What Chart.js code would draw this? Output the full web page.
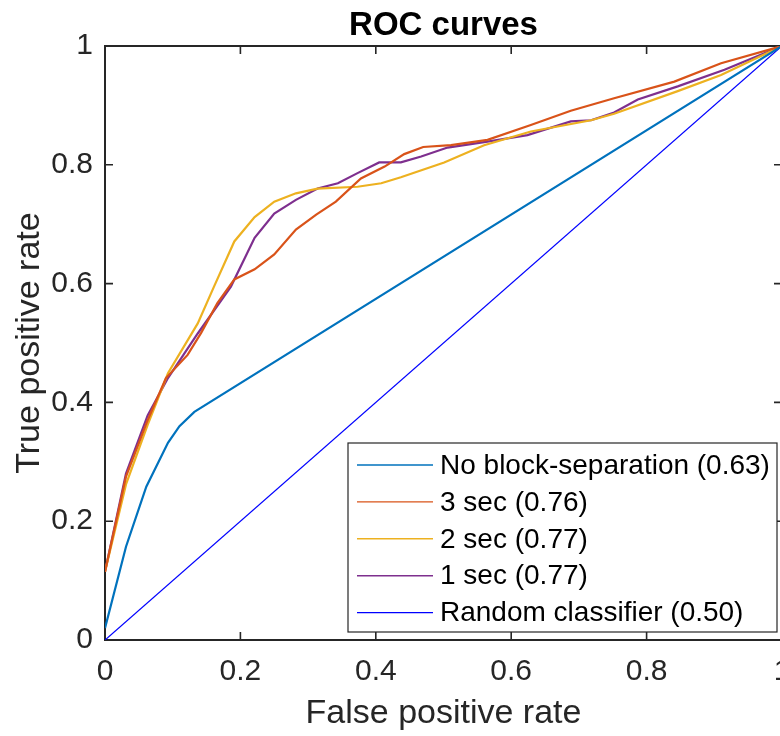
<!DOCTYPE html>
<html>
<head>
<meta charset="utf-8">
<script src="https://cdn.jsdelivr.net/npm/chart.js@4"></script>
<style>
  html, body { margin: 0; padding: 0; overflow: hidden; background: #fff; }
  #roc { display: block; }
</style>
</head>
<body>
<canvas id="roc" width="800" height="736" style="width:800px;height:736px"></canvas>
<script>
// ROC data (false positive rate / true positive rate)
const tickValues = [0, 0.2, 0.4, 0.6, 0.8, 1];

const fprNoBlock = [0, 0.031, 0.061, 0.093, 0.11, 0.132, 1];
const tprNoBlock = [0.02, 0.157, 0.258, 0.332, 0.36, 0.384, 1];

const fpr3sec = [0, 0.031, 0.063, 0.09, 0.122, 0.142, 0.166, 0.191, 0.221, 0.25, 0.282, 0.312, 0.341,
  0.378, 0.413, 0.442, 0.47, 0.511, 0.565, 0.629, 0.688, 0.752, 0.841, 0.91, 1];
const tpr3sec = [0.115, 0.275, 0.37, 0.441, 0.48, 0.517, 0.567, 0.607, 0.624, 0.649, 0.691, 0.716, 0.738,
  0.777, 0.797, 0.818, 0.83, 0.833, 0.842, 0.867, 0.891, 0.912, 0.94, 0.971, 1];

const fpr2sec = [0, 0.031, 0.063, 0.093, 0.137, 0.161, 0.191, 0.221, 0.25, 0.282, 0.314, 0.373, 0.408,
  0.437, 0.501, 0.56, 0.629, 0.718, 0.752, 0.846, 0.91, 1];
const tpr2sec = [0.115, 0.262, 0.362, 0.449, 0.533, 0.595, 0.671, 0.712, 0.738, 0.752, 0.76, 0.763, 0.769,
  0.779, 0.804, 0.833, 0.856, 0.875, 0.886, 0.924, 0.951, 1];

const fpr1sec = [0, 0.031, 0.063, 0.093, 0.137, 0.186, 0.221, 0.25, 0.282, 0.314, 0.344, 0.373, 0.405,
  0.437, 0.467, 0.506, 0.565, 0.624, 0.688, 0.718, 0.752, 0.787, 0.846, 0.915, 1];
const tpr1sec = [0.115, 0.28, 0.378, 0.441, 0.516, 0.595, 0.677, 0.718, 0.741, 0.76, 0.769, 0.786, 0.804,
  0.804, 0.814, 0.829, 0.839, 0.85, 0.873, 0.875, 0.888, 0.91, 0.932, 0.96, 1];

const fprRandom = [0, 1];
const tprRandom = [0, 1];

const seriesNames = [
  'No block-separation (0.63)',
  '3 sec (0.76)',
  '2 sec (0.77)',
  '1 sec (0.77)',
  'Random classifier (0.50)',
];

const FONT = '"Liberation Sans", Arial, Helvetica, sans-serif';
const AXIS = '#262626';

const pts = (xs, ys) => xs.map((x, i) => ({ x, y: ys[i] }));

const line = (label, data, color, width) => ({
  label, data,
  borderColor: color,
  backgroundColor: color,
  borderWidth: width,
  pointRadius: 0,
  showLine: true,
  tension: 0,
});

// box round the axes with inward ticks on all four sides
const frameTicks = {
  id: 'frameTicks',
  beforeDatasetsDraw(chart) {
    const { ctx, chartArea: a, scales: { x, y } } = chart;
    const len = 8;
    ctx.save();
    ctx.strokeStyle = AXIS;
    ctx.lineWidth = 1.6;
    ctx.beginPath();
    tickValues.forEach((v) => {
      const px = x.getPixelForValue(v);
      ctx.moveTo(px, a.bottom); ctx.lineTo(px, a.bottom - len);
      ctx.moveTo(px, a.top); ctx.lineTo(px, a.top + len);
      const py = y.getPixelForValue(v);
      ctx.moveTo(a.left, py); ctx.lineTo(a.left + len, py);
      ctx.moveTo(a.right, py); ctx.lineTo(a.right - len, py);
    });
    ctx.stroke();
    ctx.lineWidth = 2;
    ctx.strokeRect(a.left, a.top, a.right - a.left, a.bottom - a.top);
    ctx.restore();
  },
};

// legend box in the lower right of the plot
const insideLegend = {
  id: 'insideLegend',
  afterDraw(chart) {
    const { ctx, chartArea: a } = chart;
    const left = a.left + 243, top = a.top + 397;
    const right = a.left + 672, bottom = a.top + 586;
    ctx.save();
    ctx.fillStyle = '#fff';
    ctx.fillRect(left, top, right - left, bottom - top);
    ctx.strokeStyle = '#262626';
    ctx.lineWidth = 1.2;
    ctx.strokeRect(left, top, right - left, bottom - top);
    ctx.font = '28px ' + FONT;
    ctx.textBaseline = 'middle';
    ctx.textAlign = 'left';
    chart.data.datasets.forEach((ds, i) => {
      const cy = top + 22 + i * 36.9;
      ctx.strokeStyle = ds.borderColor;
      ctx.lineWidth = 1.4;
      ctx.beginPath();
      ctx.moveTo(left + 9, cy);
      ctx.lineTo(left + 85, cy);
      ctx.stroke();
      ctx.fillStyle = '#000';
      ctx.fillText(ds.label, left + 92, cy + 1);
    });
    ctx.restore();
  },
};

const tickLabel = (v) => String(Math.round(v * 10) / 10);

new Chart(document.getElementById('roc'), {
  type: 'scatter',
  data: {
    datasets: [
      line(seriesNames[0], pts(fprNoBlock, tprNoBlock), '#0072BD', 2.2),
      line(seriesNames[1], pts(fpr3sec, tpr3sec), '#D95319', 2.2),
      line(seriesNames[2], pts(fpr2sec, tpr2sec), '#EDB120', 2.2),
      line(seriesNames[3], pts(fpr1sec, tpr1sec), '#7E2F8E', 2.2),
      line(seriesNames[4], pts(fprRandom, tprRandom), '#0000FF', 1.3),
    ],
  },
  options: {
    responsive: false,
    animation: false,
    devicePixelRatio: 1,
    layout: { padding: { left: 0, right: 18, top: 0, bottom: 0 } },
    plugins: {
      legend: { display: false },
      tooltip: { enabled: false },
      title: {
        display: true,
        text: 'ROC curves',
        fullSize: false,
        color: '#000',
        font: { family: FONT, size: 33, weight: 'bold', lineHeight: 1 },
        padding: { top: 9, bottom: 4 },
      },
    },
    scales: {
      x: {
        type: 'linear',
        min: 0, max: 1,
        afterBuildTicks: (s) => { s.ticks = tickValues.map((v) => ({ value: v })); },
        afterFit: (s) => { s.height = 96; s.paddingLeft = 0; s.paddingRight = 0; },
        grid: { display: false, drawTicks: false },
        border: { display: false },
        ticks: {
          callback: tickLabel,
          color: AXIS,
          padding: 14,
          maxRotation: 0,
          font: { family: FONT, size: 30 },
        },
        title: {
          display: true,
          text: 'False positive rate',
          color: AXIS,
          font: { family: FONT, size: 34 },
          padding: { top: 0, bottom: 2 },
        },
      },
      y: {
        type: 'linear',
        min: 0, max: 1,
        afterBuildTicks: (s) => { s.ticks = tickValues.map((v) => ({ value: v })); },
        afterFit: (s) => { s.width = 105; },
        grid: { display: false, drawTicks: false },
        border: { display: false },
        ticks: {
          callback: tickLabel,
          color: AXIS,
          padding: 12,
          font: { family: FONT, size: 30 },
        },
        title: {
          display: true,
          text: 'True positive rate',
          color: AXIS,
          font: { family: FONT, size: 34 },
          padding: { top: 9, bottom: 0 },
        },
      },
    },
  },
  plugins: [frameTicks, insideLegend],
});
</script>
</body>
</html>
